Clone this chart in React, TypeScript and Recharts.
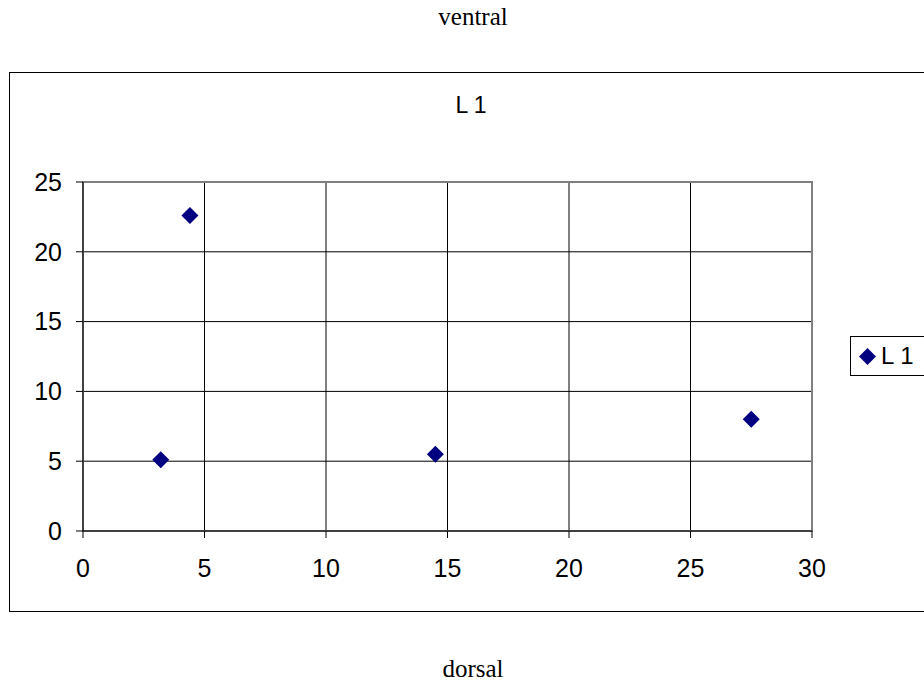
import { ScatterChart, Scatter, XAxis, YAxis, CartesianGrid, ReferenceArea } from 'recharts';

// values
const xValues = [3.2, 4.4, 14.5, 27.5];
const yValues = [5.1, 22.6, 5.5, 8.0];
const xTicks = [0, 5, 10, 15, 20, 25, 30];
const yTicks = [0, 5, 10, 15, 20, 25];
const seriesName = 'L 1';

const points = xValues.map((x, i) => ({ x, y: yValues[i] }));

const NAVY = '#000080';
const font = 'Liberation Sans, Arial, sans-serif';

// Excel style diamond (square turned 45 degrees)
const Diamond = (props: any) => {
  const { cx, cy } = props;
  const r = 8.5;
  return (
    <polygon
      points={`${cx},${cy - r} ${cx + r},${cy} ${cx},${cy + r} ${cx - r},${cy}`}
      fill={NAVY}
    />
  );
};

const LegendBox = () => (
  <div
    style={{
      position: 'absolute',
      left: 850,
      top: 336,
      border: '1px solid #000',
      background: '#fff',
      padding: '0 30px 0 8px',
      height: 38,
      display: 'flex',
      alignItems: 'center',
      fontFamily: font,
      fontSize: 24,
      whiteSpace: 'nowrap',
    }}
  >
    <svg width={17} height={17} style={{ marginRight: 5 }}>
      <polygon points="8.5,0 17,8.5 8.5,17 0,8.5" fill={NAVY} />
    </svg>
    {seriesName}
  </div>
);

const App = () => {
  return (
    <div style={{ position: 'absolute', left: 0, top: 0, width: 924, height: 684, overflow: 'hidden', background: '#fff' }}>
      <div style={{ position: 'absolute', left: 0, width: 946, top: 3, textAlign: 'center', fontFamily: 'Liberation Serif, Times New Roman, serif', fontSize: 25 }}>
        ventral
      </div>
      <div style={{ position: 'absolute', left: 0, width: 946, top: 655, textAlign: 'center', fontFamily: 'Liberation Serif, Times New Roman, serif', fontSize: 25 }}>
        dorsal
      </div>
      <div style={{ position: 'absolute', left: 9, top: 72, width: 940, height: 538, border: '1px solid #000' }} />
      <div style={{ position: 'absolute', left: 0, width: 942, top: 92, textAlign: 'center', fontFamily: font, fontSize: 23 }}>
        {seriesName}
      </div>
      <div style={{ position: 'absolute', left: 0, top: 0 }}>
        <ScatterChart width={924} height={684} margin={{ top: 182, right: 112, bottom: 123, left: 23 }}>
          <CartesianGrid stroke="#000" strokeWidth={1} />
          <ReferenceArea x1={0} x2={30} y1={0} y2={25} fill="none" stroke="#808080" strokeWidth={2} ifOverflow="visible" />
          <XAxis
            type="number"
            dataKey="x"
            domain={[0, 30]}
            ticks={xTicks}
            interval={0}
            height={30}
            stroke="#000"
            tickSize={7}
            tickMargin={21}
            fontSize={25}
            tick={{ fill: '#000', fontSize: 25, fontFamily: font }}
          />
          <YAxis
            type="number"
            dataKey="y"
            domain={[0, 25]}
            ticks={yTicks}
            interval={0}
            width={60}
            stroke="#000"
            tickSize={7}
            tickMargin={14}
            fontSize={25}
            tick={{ fill: '#000', fontSize: 25, fontFamily: font }}
          />
          <Scatter name={seriesName} data={points} fill={NAVY} shape={<Diamond />} isAnimationActive={false} />
        </ScatterChart>
      </div>
      <LegendBox />
    </div>
  );
};

export default App;
